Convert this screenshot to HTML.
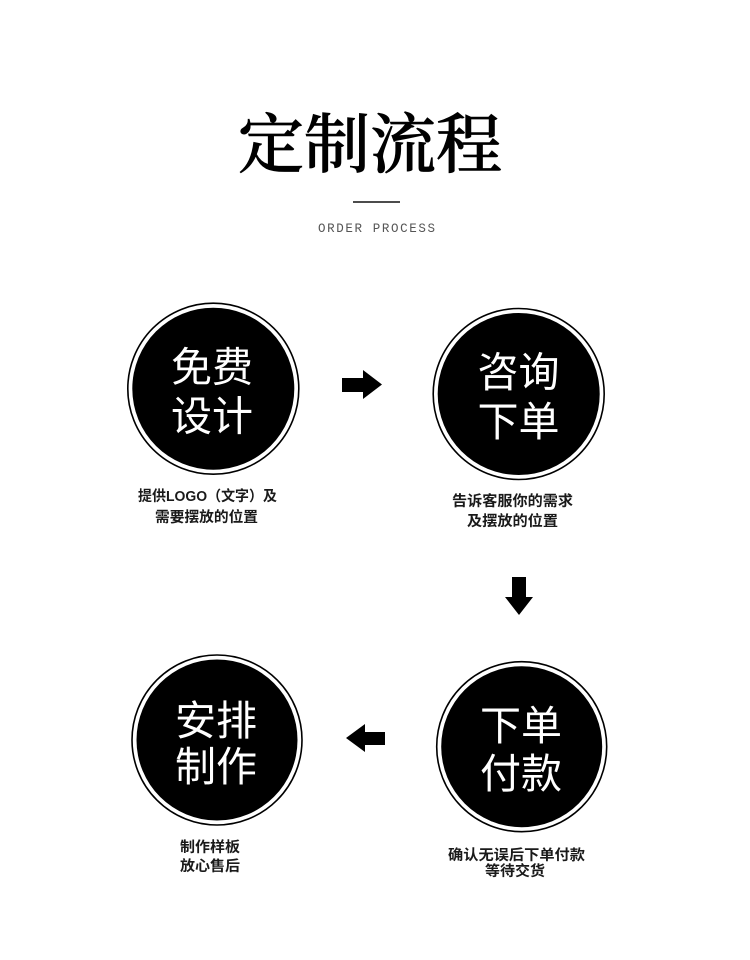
<!DOCTYPE html>
<html>
<head>
<meta charset="utf-8">
<style>
  html,body{margin:0;padding:0;background:#fff;}
  body{width:750px;height:960px;overflow:hidden;}
  svg{display:block;}
  .t{font-family:"Liberation Serif","Noto Serif CJK SC",serif;font-weight:500;}
  .c{font-family:"Liberation Sans","Noto Sans CJK SC",sans-serif;fill:#fff;font-size:41px;}
  .cap{font-family:"Liberation Sans","Noto Sans CJK SC",sans-serif;font-weight:700;fill:#1a1a1a;font-size:14.5px;}
  .m{font-family:"Liberation Mono",monospace;fill:#555;font-size:12.5px;}
</style>
</head>
<body>
<svg width="750" height="960" viewBox="0 0 750 960" xmlns="http://www.w3.org/2000/svg">
  <rect width="750" height="960" fill="#fff"/>

  <!-- Title -->
  <text class="t" x="238" y="167" font-size="65" textLength="264" lengthAdjust="spacingAndGlyphs" fill="#000" stroke="#000" stroke-width="0.8">定制流程</text>
  <line x1="353" y1="202" x2="400" y2="202" stroke="#111" stroke-width="1.5"/>
  <text class="m" x="318" y="232" textLength="117" lengthAdjust="spacing">ORDER PROCESS</text>

  <!-- Circle 1 -->
  <circle cx="213.3" cy="388.7" r="85.5" fill="#fff" stroke="#000" stroke-width="1.6"/>
  <circle cx="213.3" cy="388.7" r="81" fill="#000"/>
  <text class="c" x="212" y="381.5" text-anchor="middle">免费</text>
  <text class="c" x="212" y="430.5" text-anchor="middle">设计</text>

  <!-- Circle 2 -->
  <circle cx="518.7" cy="394" r="85.5" fill="#fff" stroke="#000" stroke-width="1.6"/>
  <circle cx="518.7" cy="394" r="81" fill="#000"/>
  <text class="c" x="518.5" y="386.5" text-anchor="middle">咨询</text>
  <text class="c" x="518.5" y="436" text-anchor="middle">下单</text>

  <!-- Circle 3 (bottom right) -->
  <circle cx="521.7" cy="746.7" r="85" fill="#fff" stroke="#000" stroke-width="1.6"/>
  <circle cx="521.7" cy="746.7" r="80.5" fill="#000"/>
  <text class="c" x="521" y="740" text-anchor="middle">下单</text>
  <text class="c" x="521" y="788" text-anchor="middle">付款</text>

  <!-- Circle 4 (bottom left) -->
  <circle cx="217" cy="740" r="85" fill="#fff" stroke="#000" stroke-width="1.6"/>
  <circle cx="217" cy="740" r="80.5" fill="#000"/>
  <text class="c" x="216" y="735" text-anchor="middle">安排</text>
  <text class="c" x="216" y="781" text-anchor="middle">制作</text>

  <!-- Arrows -->
  <polygon points="342,378 363,378 363,370 382,384.5 363,399 363,392 342,392" fill="#000"/>
  <polygon points="512,577 526,577 526,597 533,597 519,615 505,597 512,597" fill="#000"/>
  <polygon points="385,732 365,732 365,724 346,738 365,752 365,745 385,745" fill="#000"/>

  <!-- Captions -->
  <text class="cap" x="138" y="501" textLength="139" lengthAdjust="spacingAndGlyphs">提供LOGO（文字）及</text>
  <text class="cap" x="155" y="522" textLength="103" lengthAdjust="spacingAndGlyphs">需要摆放的位置</text>

  <text class="cap" x="452" y="506" textLength="121" lengthAdjust="spacingAndGlyphs">告诉客服你的需求</text>
  <text class="cap" x="467" y="526" textLength="91" lengthAdjust="spacingAndGlyphs">及摆放的位置</text>

  <text class="cap" x="448" y="860" textLength="137" lengthAdjust="spacingAndGlyphs">确认无误后下单付款</text>
  <text class="cap" x="485" y="876" textLength="60" lengthAdjust="spacingAndGlyphs">等待交货</text>

  <text class="cap" x="180" y="852" textLength="60" lengthAdjust="spacingAndGlyphs">制作样板</text>
  <text class="cap" x="180" y="871" textLength="60" lengthAdjust="spacingAndGlyphs">放心售后</text>
</svg>
</body>
</html>
